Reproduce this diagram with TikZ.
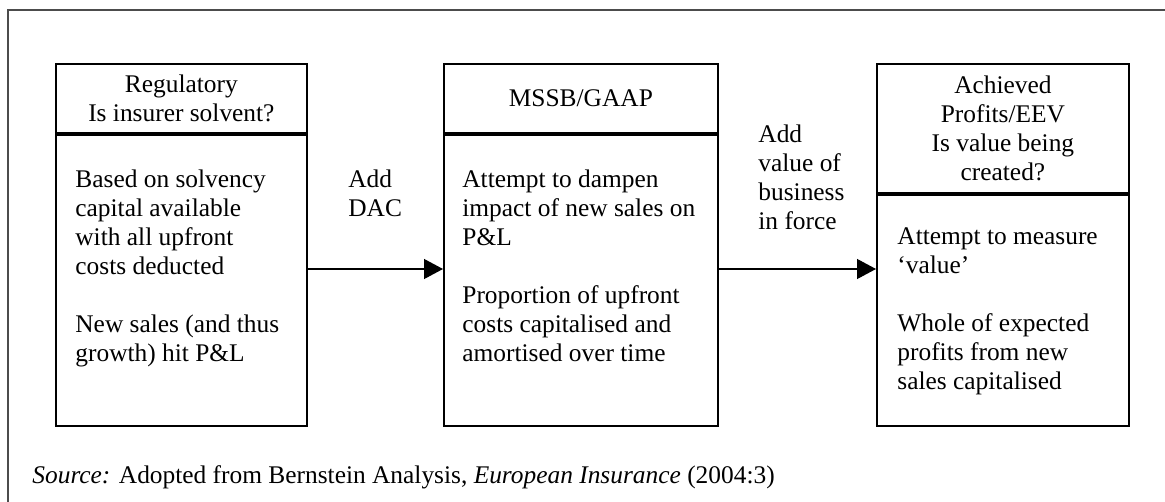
\documentclass[tikz,border=0pt]{standalone}
\usepackage{fontspec}
\setmainfont{Liberation Serif}
\usetikzlibrary{arrows.meta,positioning}

\begin{document}
\begin{tikzpicture}[x=0.5pt,y=-0.5pt,font=\fontsize{12.7}{14.5}\selectfont,
  box/.style={draw,line width=0.9pt,inner sep=0pt,align=center},
  bodytext/.style={inner sep=0pt,align=left,anchor=north west},
  link/.style={line width=0.6pt,-{Triangle[length=9.5pt,width=10pt]}}]
\useasboundingbox (0,0) rectangle (1165,502);
\draw[black!70,line width=0.6pt] (8,502) -- (8,10) -- (1165,10);

% the three boxes
\node[box,anchor=north west,minimum width=125.5pt,minimum height=34.5pt] (reg) at (55,63) {Regulatory\\Is insurer solvent?};
\node[box,below=0pt of reg,minimum width=125.5pt,minimum height=145.5pt] (regbody) {};
\node[box,anchor=north west,minimum width=137pt,minimum height=34.5pt] (mssb) at (443,63) {MSSB/GAAP};
\node[box,below=0pt of mssb,minimum width=137pt,minimum height=145.5pt] (mssbbody) {};
\node[box,anchor=north west,minimum width=126pt,minimum height=64.5pt] (eev) at (876,63) {Achieved\\Profits/EEV\\Is value being\\created?};
\node[box,below=0pt of eev,minimum width=126pt,minimum height=115.5pt] (eevbody) {};

\node[bodytext] (regtext) at ([xshift=10pt,yshift=-18pt]regbody.north west)
  {Based on solvency\\capital available\\with all upfront\\costs deducted\\[14.5pt]New sales (and thus\\growth) hit P\&L};
\node[bodytext] (mssbtext) at ([xshift=9.5pt,yshift=-18pt]mssbbody.north west)
  {Attempt to dampen\\impact of new sales on\\P\&L\\[14.5pt]Proportion of upfront\\costs capitalised and\\amortised over time};
\node[bodytext] (eevtext) at ([xshift=10.5pt,yshift=-17pt]eevbody.north west)
  {Attempt to measure\\‘value’\\[14.5pt]Whole of expected\\profits from new\\sales capitalised};

% arrows
\coordinate (arrowy) at (0,269);
\draw[link] (regbody.east |- arrowy) -- (mssbbody.west |- arrowy);
\draw[link] (mssbbody.east |- arrowy) -- (eevbody.west |- arrowy);
\node[bodytext] (dac) at (348,169) {Add\\DAC};
\node[bodytext] (vif) at (758,124) {Add\\value of\\business\\in force};

\node[anchor=base west,inner sep=0pt] (source) at (32,483)
  {\textit{Source:} Adopted from Bernstein Analysis, \textit{European Insurance} (2004:3)};
\end{tikzpicture}
\end{document}
